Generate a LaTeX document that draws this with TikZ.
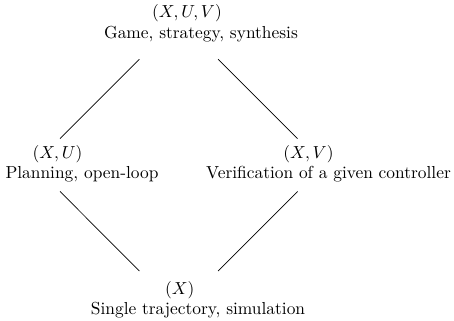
\documentclass[tikz,border=0pt]{standalone}
\usetikzlibrary{positioning}

\begin{document}
\begin{tikzpicture}[x=0.575pt,y=-0.575pt,
		every node/.style={inner sep=0pt, anchor=base},
		link/.style={shorten <=32pt, shorten >=21.5pt}]
	\useasboundingbox (0,0) rectangle (454,320);
	% corners of the lattice
	\coordinate (top) at (178.7,19.9);
	\coordinate (left) at (33.6,165);
	\coordinate (right) at (324,165);
	\coordinate (bottom) at (178.7,310.4);
	% labels
	\node (xuv) at (187,17.5) {$(X,U,V)$};
	\node (game) at (201,38.4) {Game, strategy, synthesis};
	\node (xu) at (57.5,158) {$(X,U)$};
	\node (plan) at (82,178.7) {Planning, open-loop};
	\node (xv) at (308.5,158) {$(X,V)$};
	\node (verif) at (328.5,178.7) {Verification of a given controller};
	\node (x) at (179.7,294) {$(X)$};
	\node (sim) at (198,314.8) {Single trajectory, simulation};
	% edges
	\draw[link] (top) -- (left);
	\draw[link] (top) -- (right);
	\draw[link] (bottom) -- (left);
	\draw[link] (bottom) -- (right);
\end{tikzpicture}
\end{document}
